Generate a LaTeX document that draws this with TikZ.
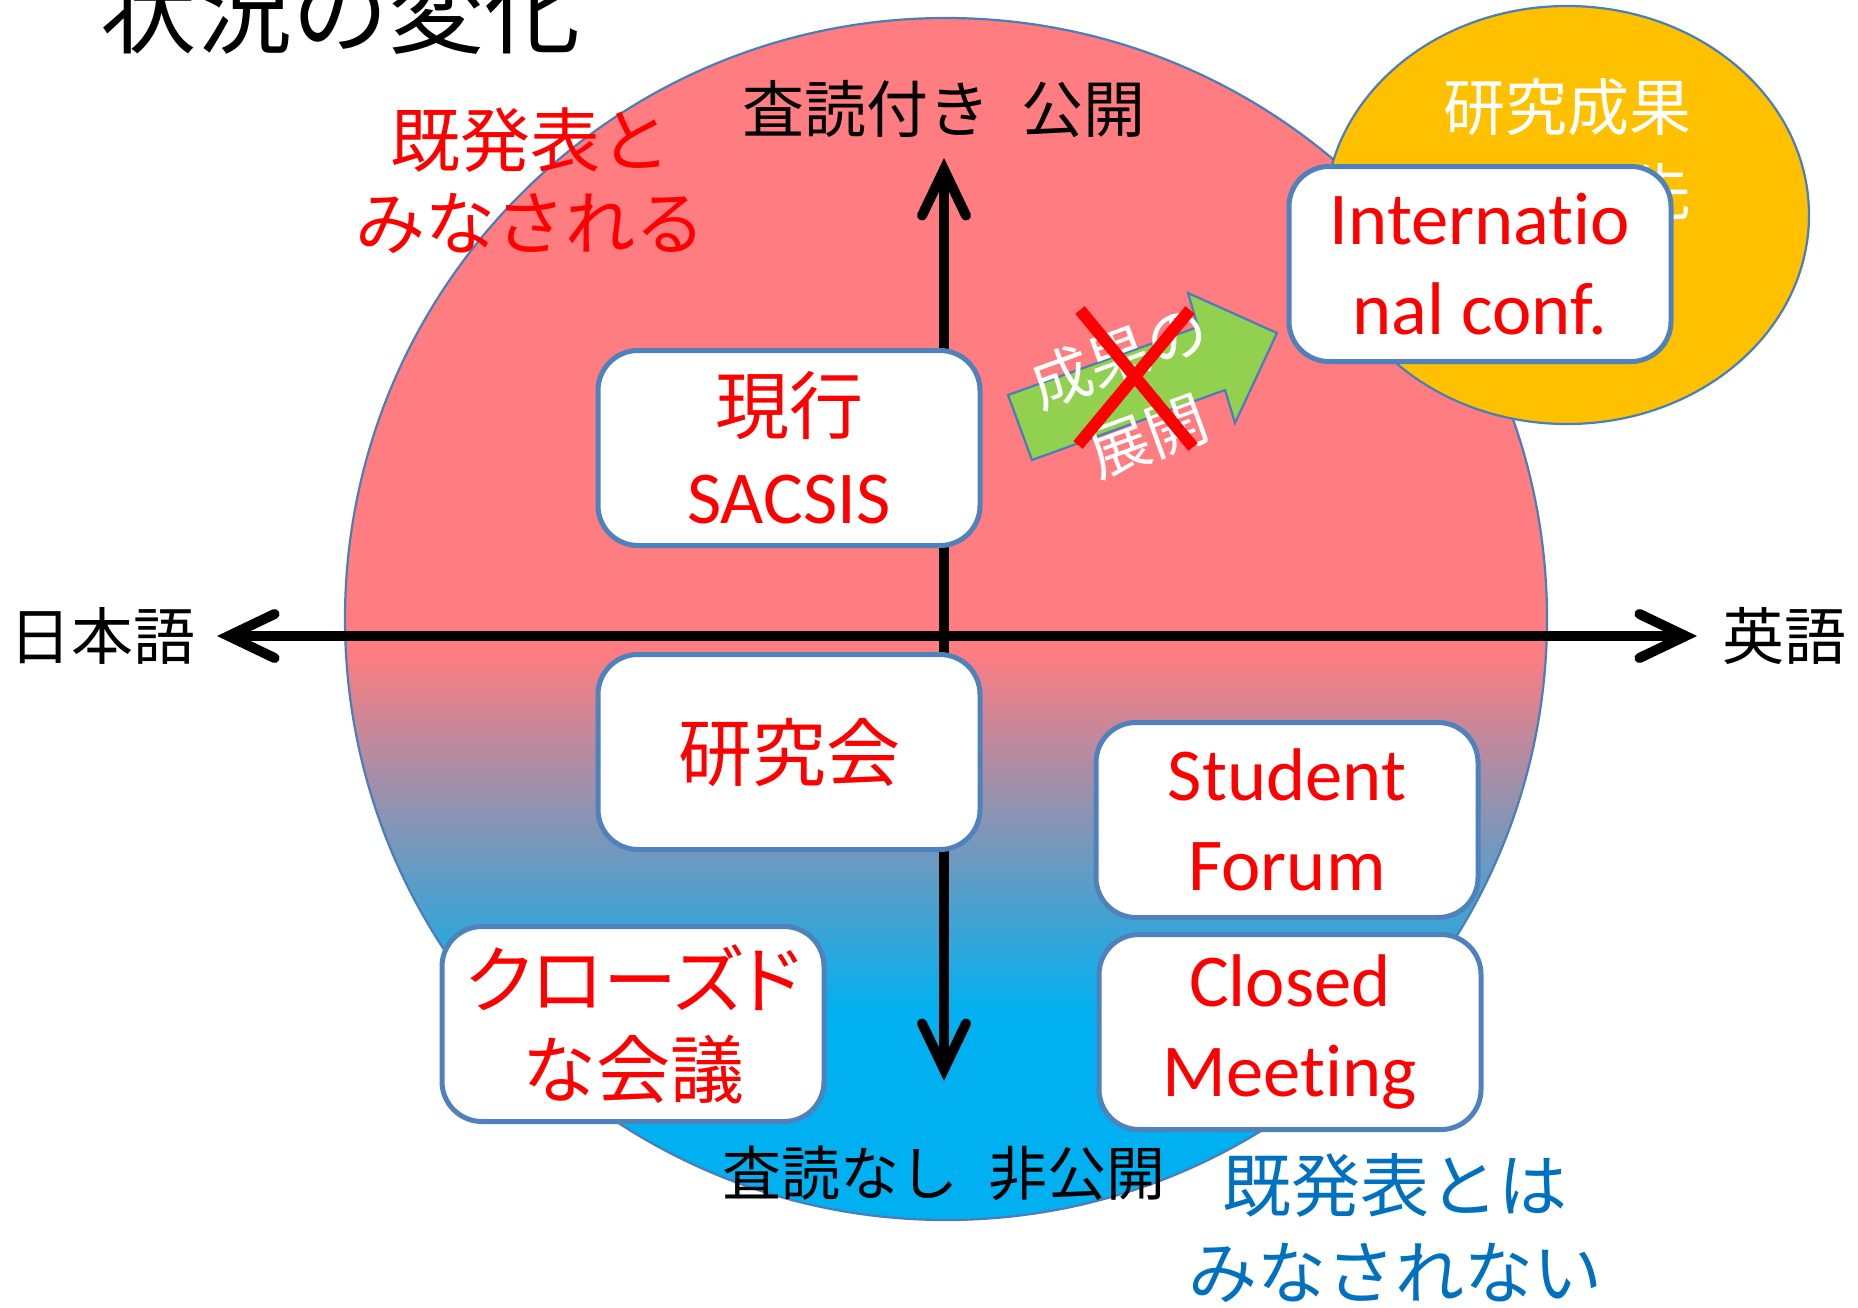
\documentclass[tikz,border=0pt]{standalone}
\usepackage{fontspec}
\setmainfont{Carlito}[Ligatures=NoCommon]
\newfontfamily\jp{Noto Sans CJK JP}
\usetikzlibrary{arrows.meta}
\definecolor{pinkc}{HTML}{FF7C80}
\definecolor{bluec}{HTML}{00B0F0}
\definecolor{yellowc}{HTML}{FFC000}
\definecolor{greenc}{HTML}{92D050}
\definecolor{boxblue}{HTML}{4F81BD}
\definecolor{outlinec}{HTML}{4A7EBB}
\definecolor{textblue}{HTML}{0070C0}
\begin{document}
\begin{tikzpicture}[x=0.5pt,y=-0.5pt,
  outl/.style={draw=outlinec,line width=1.1pt},
  stepbox/.style={draw=boxblue,line width=2.5pt,fill=white,rounded corners=20pt,
    minimum width=191pt,minimum height=97.5pt,inner sep=0pt,align=center,text=red,
    font=\fontsize{37.3pt}{45pt}\selectfont},
  jpbox/.style={stepbox,font=\jp\fontsize{37pt}{45pt}\selectfont},
  axislabel/.style={inner sep=0pt,text=black,font=\jp\fontsize{31pt}{36pt}\selectfont},
  axisline/.style={line width=5pt,
    {Straight Barb[length=23pt,width=22pt,line cap=round,line join=miter]}-{Straight Barb[length=23pt,width=22pt,line cap=round,line join=miter]}}
]
\useasboundingbox (0,0) rectangle (1858,1307);
\fill[white] (0,0) rectangle (1858,1307);

% main circle with gradient
\coordinate (cc) at (946,619);
\begin{scope}
  \clip (cc) circle[radius=300.5pt];
  \fill[pinkc] (300,0) rectangle (1600,652);
  \shade[top color=pinkc,bottom color=bluec] (300,650) rectangle (1600,1012);
  \fill[bluec] (300,1010) rectangle (1600,1260);
\end{scope}
\draw[outl] (cc) circle[radius=300.5pt];

% title
\node[inner sep=0pt,font=\jp\fontsize{48pt}{52pt}\selectfont] (title) at (340,10) {状況の変化};

% axes
\coordinate (vtop) at (944,158);
\coordinate (vbot) at (944,1081);
\coordinate (hl) at (217,636);
\coordinate (hr) at (1697,636);
\draw[axisline] (vbot) -- (vtop);
\draw[axisline] (hl) -- (hr);

% axis labels
\node[axislabel] (top) at (944,109) {査読付き\hspace{0.5em}公開};
\node[axislabel,font=\jp\fontsize{29.5pt}{36pt}\selectfont] (bot) at (944,1173) {査読なし\hspace{0.5em}非公開};
\node[axislabel] (left) at (103,636) {日本語};
\node[axislabel] (right) at (1784,636) {英語};

% yellow ellipse
\coordinate (ec) at (1567,215);
\fill[yellowc] (ec) ellipse[x radius=121pt,y radius=104.5pt];
\draw[outl] (ec) ellipse[x radius=121pt,y radius=104.5pt];
\node[inner sep=0pt,text=white,align=center,font=\jp\fontsize{31pt}{42.5pt}\selectfont] (goal) at (1567,150) {研究成果\\展開の先};

% green arrow
\coordinate (ga) at (1008,395);
\coordinate (gb) at (1198,327);
\coordinate (gc) at (1188,293);
\coordinate (gd) at (1277,333);
\coordinate (ge) at (1235,423);
\coordinate (gf) at (1225,390);
\coordinate (gg) at (1032,460);
\fill[greenc] (ga) -- (gb) -- (gc) -- (gd) -- (ge) -- (gf) -- (gg) -- cycle;
\draw[outl] (ga) -- (gb) -- (gc) -- (gd) -- (ge) -- (gf) -- (gg) -- cycle;
\node[inner sep=0pt,text=white,align=center,rotate=20,font=\jp\fontsize{30.5pt}{42.5pt}\selectfont] (dev) at (1133,396) {成果の\\展開};

% red cross
\coordinate (x1) at (1080,310);
\coordinate (x2) at (1193,447);
\coordinate (x3) at (1190,310);
\coordinate (x4) at (1078,445);
\draw[red,line width=6pt] (x1) -- (x2);
\draw[red,line width=6pt] (x3) -- (x4);

% boxes
\node[jpbox] (sacsis) at (789,448) {現行\\{\fontspec{Carlito}\fontsize{37.3pt}{45pt}\selectfont SACSIS}};
\node[jpbox] (kenkyu) at (789,752) {研究会};
\node[stepbox] (student) at (1287,820) {Student\\Forum};
\node[stepbox] (closed) at (1290,1032) {Closed\\Meeting};
\node[jpbox] (closedjp) at (633,1024) {{\addfontfeatures{RawFeature=+palt}クローズド}\\な会議};
\node[stepbox] (intl) at (1480,264) {Internatio\\nal conf.};

% side remarks
\node[inner sep=0pt,text=red,align=center,font=\jp\fontsize{35pt}{41.5pt}\selectfont] (deemed) at (530,181) {既発表と\\みなされる};
\node[inner sep=0pt,text=textblue,align=center,font=\jp\fontsize{34.5pt}{43.5pt}\selectfont] (notdeemed) at (1395,1228) {既発表とは\\みなされない};
\end{tikzpicture}
\end{document}
